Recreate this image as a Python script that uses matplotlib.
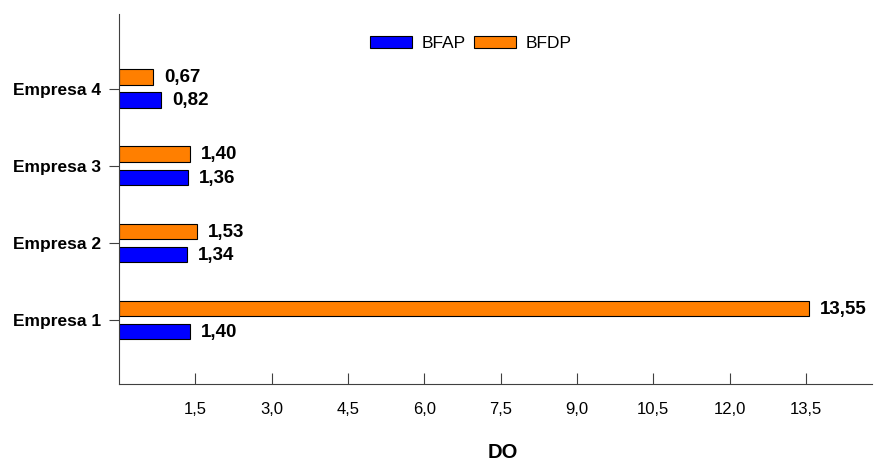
import numpy as np
import matplotlib.pyplot as plt

plt.rcParams['font.family'] = ['Liberation Sans', 'DejaVu Sans']

empresas = ['Empresa 1', 'Empresa 2', 'Empresa 3', 'Empresa 4']
bfap = [1.40, 1.34, 1.36, 0.82]
bfdp = [13.55, 1.53, 1.40, 0.67]
xticks = [1.5, 3.0, 4.5, 6.0, 7.5, 9.0, 10.5, 12.0, 13.5]

fig = plt.figure(figsize=(8.74, 4.61), dpi=100)
ax = fig.add_axes([0.136, 0.167, 0.862, 0.803])

y = np.arange(1, len(empresas) + 1)
h = 0.2
ax.barh(y - 0.15, bfap, height=h, color='#0000ff', edgecolor='black', linewidth=0.8, label='BFAP')
ax.barh(y + 0.15, bfdp, height=h, color='#ff7f00', edgecolor='black', linewidth=0.8, label='BFDP')

for yi, v in zip(y, bfap):
    ax.text(v + 0.22, yi - 0.16, f'{v:.2f}'.replace('.', ','), va='center', ha='left',
            fontsize=13.5, fontweight='bold')
for yi, v in zip(y, bfdp):
    ax.text(v + 0.22, yi + 0.14, f'{v:.2f}'.replace('.', ','), va='center', ha='left',
            fontsize=13.5, fontweight='bold')

ax.set_xlim(0, 14.8)
ax.set_ylim(0.17, 4.97)
ax.set_xticks(xticks)
ax.set_xticklabels([f'{t:.1f}'.replace('.', ',') for t in xticks], fontsize=12)
ax.set_yticks(y)
ax.set_yticklabels(empresas, fontsize=12.5, fontweight='bold')
ax.tick_params(axis='x', direction='in', length=8, pad=13, color='#404040')
ax.tick_params(axis='y', direction='out', length=7, pad=6, color='#404040')
ax.spines['top'].set_visible(False)
ax.spines['right'].set_visible(False)
ax.spines['left'].set_color('#404040')
ax.spines['bottom'].set_color('#404040')
xl = ax.set_xlabel('DO', fontsize=14.5, fontweight='bold')
ax.xaxis.set_label_coords(0.509, -0.184)
xl.set_va('center')

ax.legend(loc='center', bbox_to_anchor=(0.467, 0.92), ncol=2, frameon=False,
          fontsize=12.5, handlelength=2.4, handleheight=0.75, columnspacing=0.5,
          handletextpad=0.55)

fig.savefig('out.png', dpi=100)
